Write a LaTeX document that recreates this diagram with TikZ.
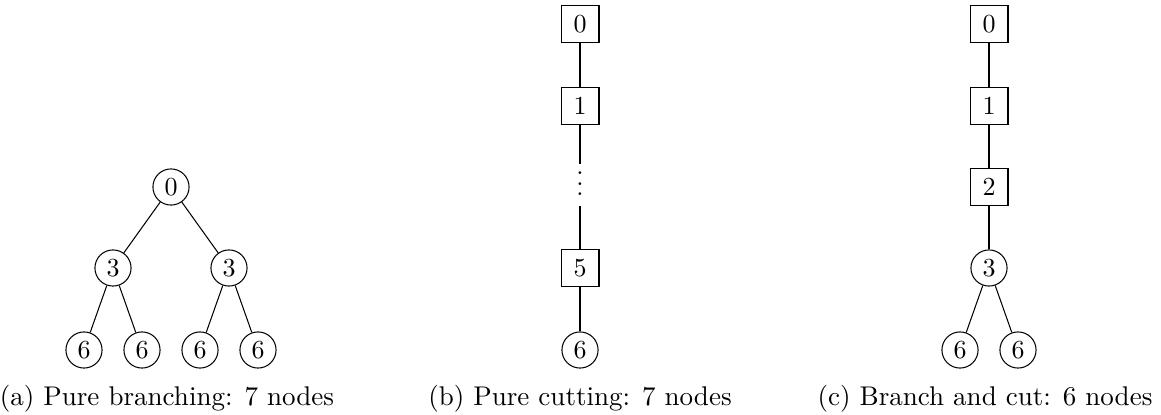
\documentclass[tikz,border=0pt]{standalone}
\begin{document}
\begin{tikzpicture}[x=0.3846pt,y=-0.3846pt,
  bnode/.style={circle,draw,inner sep=0pt,minimum size=13.9pt},
  cnode/.style={rectangle,draw,inner sep=0pt,minimum width=14.6pt,minimum height=14.3pt},
  dotsnode/.style={inner sep=0pt,minimum height=15.4pt,minimum width=4pt},
  captext/.style={anchor=base,inner sep=0pt}]
\useasboundingbox (0,0) rectangle (1161,415);
% (a) pure branching
\node[bnode] (a0) at (171,187) {0};
\node[bnode] (a3l) at (113,268) {3};
\node[bnode] (a3r) at (229,268) {3};
\node[bnode] (a6a) at (84,350) {6};
\node[bnode] (a6b) at (142,350) {6};
\node[bnode] (a6c) at (200,350) {6};
\node[bnode] (a6d) at (258,350) {6};
\draw (a0) -- (a3l);
\draw (a0) -- (a3r);
\draw (a3l) -- (a6a);
\draw (a3l) -- (a6b);
\draw (a3r) -- (a6c);
\draw (a3r) -- (a6d);
\node[captext] (capa) at (167,406) {\scalebox{1.04}{(a) Pure branching: 7 nodes}};
% (b) pure cutting
\node[cnode] (b0) at (580,24) {0};
\node[cnode] (b1) at (580,106) {1};
\node[dotsnode] (bd) at (580,185) {\raisebox{-4.15pt}[0pt][0pt]{$\vdots$}};
\node[cnode] (b5) at (580,268) {5};
\node[bnode] (b6) at (580,350) {6};
\draw (b0) -- (b1);
\draw (b1) -- (bd);
\draw (bd) -- (b5);
\draw (b5) -- (b6);
\node[captext] (capb) at (580,406) {\scalebox{1.04}{(b) Pure cutting: 7 nodes}};
% (c) branch and cut
\node[cnode] (c0) at (989,24) {0};
\node[cnode] (c1) at (989,106) {1};
\node[cnode] (c2) at (989,187) {2};
\node[bnode] (c3) at (989,268) {3};
\node[bnode] (c6a) at (960,350) {6};
\node[bnode] (c6b) at (1018,350) {6};
\draw (c0) -- (c1);
\draw (c1) -- (c2);
\draw (c2) -- (c3);
\draw (c3) -- (c6a);
\draw (c3) -- (c6b);
\node[captext] (capc) at (985,406) {\scalebox{1.04}{(c) Branch and cut: 6 nodes}};
\end{tikzpicture}
\end{document}
